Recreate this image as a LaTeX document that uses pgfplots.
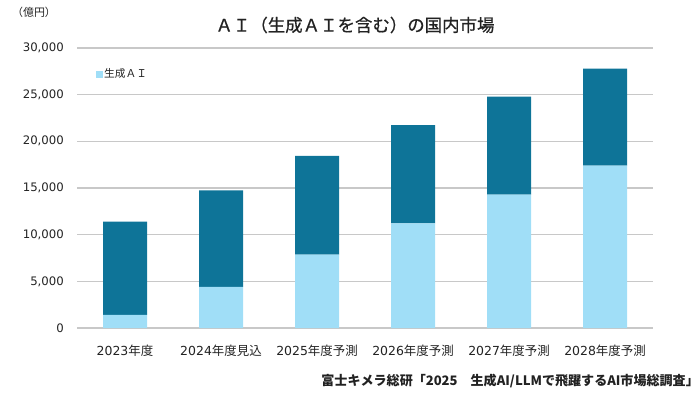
\documentclass[border=0pt]{standalone}
\usepackage{fontspec}
\setmainfont{DejaVu Sans}
\newfontfamily\cjk{Noto Sans CJK JP}
\newfontfamily\cjkt[FakeBold=0.6]{Noto Sans CJK JP}
\usepackage{pgfplots}
\pgfplotsset{compat=1.18}
\definecolor{darkbar}{RGB}{14,116,152}
\definecolor{lightbar}{RGB}{160,222,247}
\definecolor{gridc}{RGB}{200,200,200}
\definecolor{txt}{RGB}{34,34,34}
\begin{document}
\begin{tikzpicture}[x=1bp,y=1bp]
\path[use as bounding box] (0,0) rectangle (700,394);
\begin{axis}[
  at={(77bp,66bp)}, anchor=south west,
  scale only axis, width=576bp, height=280bp,
  xmin=-0.5, xmax=5.5, ymin=0, ymax=30000,
  ybar stacked, bar width=44bp,
  axis line style={draw=none},
  ymajorgrids, grid style={gridc, line width=1.2pt},
  major tick length=0pt,
  ytick={0,5000,10000,15000,20000,25000,30000},
  xtick={0,1,2,3,4,5},
  xticklabels={{2023{\cjk 年度}},{2024{\cjk 年度見込}},{2025{\cjk 年度予測}},{2026{\cjk 年度予測}},{2027{\cjk 年度予測}},{2028{\cjk 年度予測}}},
  scaled y ticks=false,
  /pgf/number format/assume math mode=true,
  yticklabel style={/pgf/number format/1000 sep={,}, font=\fontsize{11.75}{14}\selectfont, text=txt, anchor=east, inner sep=0pt, xshift=-13bp},
  xticklabel style={font=\fontsize{12.5}{15}\selectfont, text=txt, anchor=center, inner sep=0pt, yshift=-23bp},
  legend style={at={(rel axis cs:0.032,0.907)}, anchor=west, draw=none, fill=none, inner sep=0pt,
    font=\cjk\fontsize{10.8}{13}\selectfont, text=txt, nodes={inner sep=1.5bp}},
  legend image code/.code={\fill[lightbar] (0bp,-3.5bp) rectangle (7bp,3.5bp);},
]
\addplot[fill=lightbar, draw=none] coordinates {(0,1400) (1,4400) (2,7850) (3,11200) (4,14300) (5,17400)};
\addlegendentry{生成ＡＩ}
\addplot[fill=darkbar, draw=none, forget plot] coordinates {(0,10000) (1,10350) (2,10600) (3,10550) (4,10500) (5,10400)};
\end{axis}
\node[font=\cjkt\fontsize{17.5}{20}\selectfont, text=txt] at (355,369) {ＡＩ（生成ＡＩを含む）の国内市場};
\node[font=\cjk\fontsize{11}{13}\selectfont, text=txt] at (34,382) {（億円）};
\node[anchor=east, inner sep=0pt, font=\cjk\bfseries\fontsize{13.1}{16}\selectfont, text=txt] at (699,13) {富士キメラ総研「2025　生成AI/LLMで飛躍するAI市場総調査」};
\end{tikzpicture}
\end{document}
